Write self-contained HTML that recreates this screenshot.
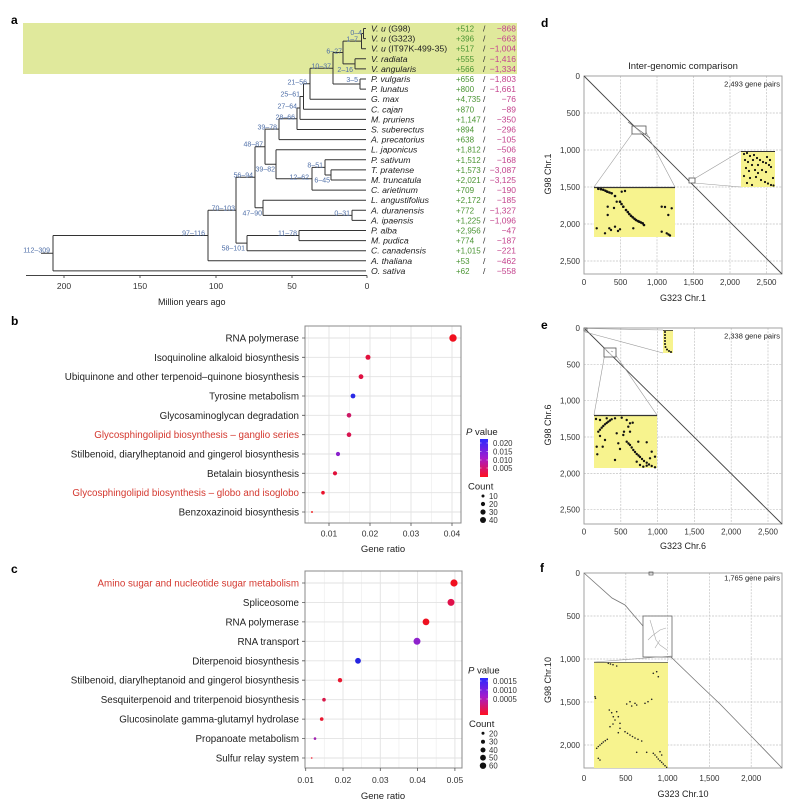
<!DOCTYPE html>
<html><head><meta charset="utf-8"><style>
html,body{margin:0;padding:0;background:#fff;}
svg{display:block;}
text{font-family:"Liberation Sans",Arial,sans-serif;}
</style></head><body>
<svg width="800" height="804" viewBox="0 0 800 804" xmlns="http://www.w3.org/2000/svg">
<defs>
<linearGradient id="pv" x1="0" y1="0" x2="0" y2="1">
<stop offset="0" stop-color="#2a2aff"/><stop offset="0.5" stop-color="#a41ccc"/><stop offset="1" stop-color="#ff1020"/>
</linearGradient>
</defs>
<rect width="800" height="804" fill="#fff"/>

<!-- ============ Panel a ============ -->
<text x="11" y="24" font-size="12" font-weight="bold">a</text>
<rect x="23" y="23" width="494" height="51" fill="#e0e99c"/>
<path fill="none" stroke="#333" stroke-width="1" d="
M41 253.2H53
M53 235.5V270.9 M53 235.5H208 M53 270.9H366
M208 210.2V260.8 M208 210.2H236 M208 260.8H366
M236 177.25V243.1 M236 177.25H255 M236 243.1H247
M247 235.55V250.7 M247 235.55H299 M247 250.7H366
M299 230.5V240.6 M299 230.5H366 M299 240.6H366
M255 146.7V207.8 M255 146.7H265 M255 207.8H263
M263 200.2V215.35 M263 200.2H366 M263 215.35H352
M352 210.3V220.4 M352 210.3H366 M352 220.4H366
M265 129.15V164.2 M265 129.15H279 M265 164.2H276
M276 149.7V178.75 M276 149.7H366 M276 178.75H312
M312 167.4V190.1 M312 167.4H325 M312 190.1H366
M325 159.8V174.95 M325 159.8H366 M325 174.95H331
M331 169.9V180 M331 169.9H366 M331 180H366
M279 118.7V139.6 M279 118.7H297 M279 139.6H366
M297 107.95V129.5 M297 107.95H300 M297 129.5H366
M300 96.5V119.4 M300 96.5H303.5 M300 119.4H366
M303.5 83.75V109.3 M303.5 83.75H310 M303.5 109.3H366
M310 68.3V99.2 M310 68.3H333 M310 99.2H366
M333 52.5V84.05 M333 52.5H343 M333 84.05H360
M360 79V89.1 M360 79H366 M360 89.1H366
M343 41.1V63.85 M343 41.1H361.5 M343 63.85H355
M355 58.8V68.9 M355 58.8H366 M355 68.9H366
M361.5 33.55V48.7 M361.5 33.55H363.5 M361.5 48.7H366
M363.5 28.5V38.6 M363.5 28.5H366 M363.5 38.6H366
"/>
<g font-size="7" fill="#4f6fa8" text-anchor="end">
<text x="362" y="35">0–4</text>
<text x="358" y="41.5">1–7</text>
<text x="342" y="53.5">6–27</text>
<text x="353" y="72">2–16</text>
<text x="331" y="68.5">10–37</text>
<text x="358" y="82">3–5</text>
<text x="307" y="84.5">21–56</text>
<text x="300" y="96.5">25–61</text>
<text x="297" y="108.5">27–64</text>
<text x="295" y="119.5">28–66</text>
<text x="277" y="129.5">39–78</text>
<text x="263" y="146.5">48–87</text>
<text x="275" y="171.5">39–82</text>
<text x="309" y="179.5">12–62</text>
<text x="323" y="167.5">8–51</text>
<text x="330" y="182.5">6–45</text>
<text x="253" y="177.5">56–94</text>
<text x="262" y="215.5">47–90</text>
<text x="350" y="215.5">0–31</text>
<text x="235" y="210.5">70–103</text>
<text x="245" y="250.5">58–101</text>
<text x="297" y="235.5">11–78</text>
<text x="205" y="235.5">97–116</text>
<text x="50" y="252.5">112–309</text>
</g>
<g font-size="8.7" fill="#222">
<text x="371" y="31.5"><tspan font-style="italic">V. u</tspan> (G98)</text>
<text x="371" y="41.6"><tspan font-style="italic">V. u</tspan> (G323)</text>
<text x="371" y="51.7"><tspan font-style="italic">V. u</tspan> (IT97K-499-35)</text>
<g font-style="italic">
<text x="371" y="61.8">V. radiata</text>
<text x="371" y="71.9">V. angularis</text>
<text x="371" y="82">P. vulgaris</text>
<text x="371" y="92.1">P. lunatus</text>
<text x="371" y="102.2">G. max</text>
<text x="371" y="112.3">C. cajan</text>
<text x="371" y="122.4">M. pruriens</text>
<text x="371" y="132.5">S. suberectus</text>
<text x="371" y="142.6">A. precatorius</text>
<text x="371" y="152.7">L. japonicus</text>
<text x="371" y="162.8">P. sativum</text>
<text x="371" y="172.9">T. pratense</text>
<text x="371" y="183">M. truncatula</text>
<text x="371" y="193.1">C. arietinum</text>
<text x="371" y="203.2">L. angustifolius</text>
<text x="371" y="213.3">A. duranensis</text>
<text x="371" y="223.4">A. ipaensis</text>
<text x="371" y="233.5">P. alba</text>
<text x="371" y="243.6">M. pudica</text>
<text x="371" y="253.7">C. canadensis</text>
<text x="371" y="263.8">A. thaliana</text>
<text x="371" y="273.9">O. sativa</text>
</g>
</g>
<g font-size="8" fill="#4a9433">
<text x="456" y="31.5">+512</text><text x="456" y="41.6">+396</text><text x="456" y="51.7">+517</text><text x="456" y="61.8">+555</text><text x="456" y="71.9">+566</text>
<text x="456" y="82">+656</text><text x="456" y="92.1">+800</text><text x="456" y="102.2">+4,735</text><text x="456" y="112.3">+870</text><text x="456" y="122.4">+1,147</text>
<text x="456" y="132.5">+894</text><text x="456" y="142.6">+638</text><text x="456" y="152.7">+1,812</text><text x="456" y="162.8">+1,512</text><text x="456" y="172.9">+1,573</text>
<text x="456" y="183">+2,021</text><text x="456" y="193.1">+709</text><text x="456" y="203.2">+2,172</text><text x="456" y="213.3">+772</text><text x="456" y="223.4">+1,225</text>
<text x="456" y="233.5">+2,956</text><text x="456" y="243.6">+774</text><text x="456" y="253.7">+1,015</text><text x="456" y="263.8">+53</text><text x="456" y="273.9">+62</text>
</g>
<g font-size="8.5" fill="#333">
<text x="483" y="31.5">/</text><text x="483" y="41.6">/</text><text x="483" y="51.7">/</text><text x="483" y="61.8">/</text><text x="483" y="71.9">/</text>
<text x="483" y="82">/</text><text x="483" y="92.1">/</text><text x="483" y="102.2">/</text><text x="483" y="112.3">/</text><text x="483" y="122.4">/</text>
<text x="483" y="132.5">/</text><text x="483" y="142.6">/</text><text x="483" y="152.7">/</text><text x="483" y="162.8">/</text><text x="483" y="172.9">/</text>
<text x="483" y="183">/</text><text x="483" y="193.1">/</text><text x="483" y="203.2">/</text><text x="483" y="213.3">/</text><text x="483" y="223.4">/</text>
<text x="483" y="233.5">/</text><text x="483" y="243.6">/</text><text x="483" y="253.7">/</text><text x="483" y="263.8">/</text><text x="483" y="273.9">/</text>
</g>
<g font-size="8.5" fill="#c4448e" text-anchor="end">
<text x="516" y="31.5">−868</text><text x="516" y="41.6">−663</text><text x="516" y="51.7">−1,004</text><text x="516" y="61.8">−1,416</text><text x="516" y="71.9">−1,334</text>
<text x="516" y="82">−1,803</text><text x="516" y="92.1">−1,661</text><text x="516" y="102.2">−76</text><text x="516" y="112.3">−89</text><text x="516" y="122.4">−350</text>
<text x="516" y="132.5">−296</text><text x="516" y="142.6">−105</text><text x="516" y="152.7">−506</text><text x="516" y="162.8">−168</text><text x="516" y="172.9">−3,087</text>
<text x="516" y="183">−3,125</text><text x="516" y="193.1">−190</text><text x="516" y="203.2">−185</text><text x="516" y="213.3">−1,327</text><text x="516" y="223.4">−1,096</text>
<text x="516" y="233.5">−47</text><text x="516" y="243.6">−187</text><text x="516" y="253.7">−221</text><text x="516" y="263.8">−462</text><text x="516" y="273.9">−558</text>
</g>
<path d="M26 275.5H367 M64 275.5v2.5 M140 275.5v2.5 M216 275.5v2.5 M292 275.5v2.5 M367 275.5v2.5" stroke="#444" stroke-width="0.9" fill="none"/>
<g font-size="8.5" fill="#333" text-anchor="middle">
<text x="64" y="289">200</text><text x="140" y="289">150</text><text x="216" y="289">100</text><text x="292" y="289">50</text><text x="367" y="289">0</text>
</g>
<text x="158" y="305" font-size="9" fill="#222">Million years ago</text>

<!-- ============ Panel b ============ -->
<text x="11" y="325" font-size="12" font-weight="bold">b</text>
<rect x="305" y="326" width="156" height="197" fill="#fff"/>
<g stroke="#f0f0f0" stroke-width="0.8">
<path d="M308.5 326V523 M349.5 326V523 M390.5 326V523 M431.5 326V523"/>
</g>
<g stroke="#e2e2e2" stroke-width="0.9">
<path d="M329 326V523 M370 326V523 M411 326V523 M452 326V523"/>
<path d="M305 338H461 M305 357.3H461 M305 376.7H461 M305 396H461 M305 415.3H461 M305 434.7H461 M305 454H461 M305 473.3H461 M305 492.7H461 M305 512H461"/>
</g>
<rect x="305" y="326" width="156" height="197" fill="none" stroke="#888" stroke-width="1"/>
<path d="M302 338h3 M302 357.3h3 M302 376.7h3 M302 396h3 M302 415.3h3 M302 434.7h3 M302 454h3 M302 473.3h3 M302 492.7h3 M302 512h3 M329 523v3 M370 523v3 M411 523v3 M452 523v3" stroke="#555" stroke-width="0.8"/>
<g font-size="9.8" fill="#222" text-anchor="end">
<text x="299" y="341.5">RNA polymerase</text>
<text x="299" y="360.8">Isoquinoline alkaloid biosynthesis</text>
<text x="299" y="380.2">Ubiquinone and other terpenoid–quinone biosynthesis</text>
<text x="299" y="399.5">Tyrosine metabolism</text>
<text x="299" y="418.8">Glycosaminoglycan degradation</text>
<text x="299" y="438.2" fill="#d4382f">Glycosphingolipid biosynthesis – ganglio series</text>
<text x="299" y="457.5">Stilbenoid, diarylheptanoid and gingerol biosynthesis</text>
<text x="299" y="476.8">Betalain biosynthesis</text>
<text x="299" y="496.2" fill="#d4382f">Glycosphingolipid biosynthesis – globo and isoglobo</text>
<text x="299" y="515.5">Benzoxazinoid biosynthesis</text>
</g>
<circle cx="453" cy="338" r="3.7" fill="#f0101e"/>
<circle cx="368" cy="357.3" r="2.5" fill="#e2103c"/>
<circle cx="361" cy="376.7" r="2.4" fill="#e01042"/>
<circle cx="353" cy="396" r="2.4" fill="#2a2ae6"/>
<circle cx="349" cy="415.3" r="2.3" fill="#cc1866"/>
<circle cx="349" cy="434.7" r="2.3" fill="#d81450"/>
<circle cx="338" cy="454" r="2.1" fill="#8a22cc"/>
<circle cx="335" cy="473.3" r="2.1" fill="#e0103a"/>
<circle cx="323" cy="492.7" r="1.8" fill="#ea122c"/>
<circle cx="312" cy="512" r="1" fill="#f03030"/>
<g font-size="8.5" fill="#333" text-anchor="middle">
<text x="329" y="536.5">0.01</text><text x="370" y="536.5">0.02</text><text x="411" y="536.5">0.03</text><text x="452" y="536.5">0.04</text>
</g>
<text x="383" y="552" font-size="9.5" fill="#222" text-anchor="middle">Gene ratio</text>
<text x="466" y="435" font-size="9.5" fill="#222"><tspan font-style="italic">P</tspan> value</text>
<rect x="480" y="439" width="8" height="38" fill="url(#pv)"/>
<path d="M480 443h1.5 M486.5 443h1.5 M480 451.5h1.5 M486.5 451.5h1.5 M480 460h1.5 M486.5 460h1.5 M480 468h1.5 M486.5 468h1.5" stroke="#fff" stroke-width="0.6"/>
<g font-size="7.8" fill="#333">
<text x="493" y="446">0.020</text><text x="493" y="454.5">0.015</text><text x="493" y="463">0.010</text><text x="493" y="471">0.005</text>
</g>
<text x="468" y="489.5" font-size="9.5" fill="#222">Count</text>
<circle cx="483" cy="496" r="1.5" fill="#111"/><circle cx="483" cy="504" r="2.1" fill="#111"/><circle cx="483" cy="512" r="2.6" fill="#111"/><circle cx="483" cy="520" r="3" fill="#111"/>
<g font-size="7.8" fill="#333">
<text x="489" y="499">10</text><text x="489" y="507">20</text><text x="489" y="515">30</text><text x="489" y="523">40</text>
</g>

<!-- ============ Panel c ============ -->
<text x="11" y="573" font-size="12" font-weight="bold">c</text>
<rect x="305" y="571" width="157" height="197" fill="#fff"/>
<g stroke="#f0f0f0" stroke-width="0.8">
<path d="M324.3 571V768 M361.6 571V768 M398.9 571V768 M436.2 571V768"/>
</g>
<g stroke="#e2e2e2" stroke-width="0.9">
<path d="M343 571V768 M380.3 571V768 M417.6 571V768 M454.9 571V768"/>
<path d="M305 583H462 M305 602.4H462 M305 621.9H462 M305 641.3H462 M305 660.8H462 M305 680.2H462 M305 699.7H462 M305 719.1H462 M305 738.6H462 M305 758H462"/>
</g>
<rect x="305" y="571" width="157" height="197" fill="none" stroke="#888" stroke-width="1"/>
<path d="M302 583h3 M302 602.4h3 M302 621.9h3 M302 641.3h3 M302 660.8h3 M302 680.2h3 M302 699.7h3 M302 719.1h3 M302 738.6h3 M302 758h3 M305.7 768v3 M343 768v3 M380.3 768v3 M417.6 768v3 M454.9 768v3" stroke="#555" stroke-width="0.8"/>
<g font-size="9.8" fill="#222" text-anchor="end">
<text x="299" y="586.5" fill="#d4382f">Amino sugar and nucleotide sugar metabolism</text>
<text x="299" y="605.9">Spliceosome</text>
<text x="299" y="625.4">RNA polymerase</text>
<text x="299" y="644.8">RNA transport</text>
<text x="299" y="664.3">Diterpenoid biosynthesis</text>
<text x="299" y="683.7">Stilbenoid, diarylheptanoid and gingerol biosynthesis</text>
<text x="299" y="703.2">Sesquiterpenoid and triterpenoid biosynthesis</text>
<text x="299" y="722.6">Glucosinolate gamma-glutamyl hydrolase</text>
<text x="299" y="742.1">Propanoate metabolism</text>
<text x="299" y="761.5">Sulfur relay system</text>
</g>
<circle cx="454" cy="583" r="3.6" fill="#f0101e"/>
<circle cx="451" cy="602.4" r="3.5" fill="#e0104a"/>
<circle cx="426" cy="621.9" r="3.4" fill="#ee1020"/>
<circle cx="417" cy="641.3" r="3.5" fill="#8e22cc"/>
<circle cx="358" cy="660.8" r="2.9" fill="#2424e0"/>
<circle cx="340" cy="680.2" r="2.2" fill="#e81830"/>
<circle cx="324" cy="699.7" r="1.8" fill="#d8184a"/>
<circle cx="321.7" cy="719.1" r="1.8" fill="#e81830"/>
<circle cx="315" cy="738.6" r="1.3" fill="#a020b0"/>
<circle cx="311.7" cy="758" r="0.9" fill="#f04050"/>
<g font-size="8.5" fill="#333" text-anchor="middle">
<text x="305.7" y="783">0.01</text><text x="343" y="783">0.02</text><text x="380.3" y="783">0.03</text><text x="417.6" y="783">0.04</text><text x="454.9" y="783">0.05</text>
</g>
<text x="383" y="799" font-size="9.5" fill="#222" text-anchor="middle">Gene ratio</text>
<text x="468" y="673.5" font-size="9.5" fill="#222"><tspan font-style="italic">P</tspan> value</text>
<rect x="480" y="678" width="8" height="37" fill="url(#pv)"/>
<path d="M480 681h1.5 M486.5 681h1.5 M480 690h1.5 M486.5 690h1.5 M480 699h1.5 M486.5 699h1.5" stroke="#fff" stroke-width="0.6"/>
<g font-size="7.8" fill="#333">
<text x="493" y="684">0.0015</text><text x="493" y="693">0.0010</text><text x="493" y="702">0.0005</text>
</g>
<text x="469" y="727" font-size="9.5" fill="#222">Count</text>
<circle cx="483" cy="733.3" r="1.5" fill="#111"/><circle cx="483" cy="741.7" r="2" fill="#111"/><circle cx="483" cy="750" r="2.5" fill="#111"/><circle cx="483" cy="757.7" r="2.9" fill="#111"/><circle cx="483" cy="765.7" r="3.2" fill="#111"/>
<g font-size="7.8" fill="#333">
<text x="489" y="736.3">20</text><text x="489" y="744.7">30</text><text x="489" y="753">40</text><text x="489" y="760.7">50</text><text x="489" y="768.7">60</text>
</g>

<!-- ============ Panel d ============ -->
<text x="541" y="27" font-size="12" font-weight="bold">d</text>
<text x="683" y="69" font-size="9.5" fill="#222" text-anchor="middle">Inter-genomic comparison</text>
<g stroke="#c4c4c4" stroke-width="0.7" stroke-dasharray="2,1.2">
<path d="M620.5 76V274 M657 76V274 M693.5 76V274 M730 76V274 M766.5 76V274"/>
<path d="M584 113H782 M584 150H782 M584 187H782 M584 224H782 M584 261H782"/>
</g>
<rect x="584" y="76" width="198" height="198" fill="none" stroke="#999" stroke-width="0.9"/>
<path d="M584 76L782 274" stroke="#444" stroke-width="0.9"/>
<g font-size="8" fill="#333" text-anchor="end">
<text x="580" y="79">0</text><text x="580" y="116">500</text><text x="580" y="153">1,000</text><text x="580" y="190">1,500</text><text x="580" y="227">2,000</text><text x="580" y="264">2,500</text>
</g>
<g font-size="8" fill="#333" text-anchor="middle">
<text x="584" y="285">0</text><text x="620.5" y="285">500</text><text x="657" y="285">1,000</text><text x="693.5" y="285">1,500</text><text x="730" y="285">2,000</text><text x="766.5" y="285">2,500</text>
</g>
<text x="683" y="301" font-size="9" fill="#222" text-anchor="middle">G323 Chr.1</text>
<text transform="translate(551,174) rotate(-90)" font-size="9" fill="#222" text-anchor="middle">G98 Chr.1</text>
<text x="780" y="86.5" font-size="7.5" fill="#222" text-anchor="end">2,493 gene pairs</text>
<g stroke="#999" stroke-width="0.6">
<path d="M632 134L594 187 M646 132L675 187 M694 179L741 151 M694 183L741 187"/>
</g>
<rect x="632" y="126" width="14" height="8" fill="#fff" fill-opacity="0.6" stroke="#555" stroke-width="0.8"/>
<path d="M628 122L650 138" stroke="#666" stroke-width="0.7"/>
<rect x="689" y="178" width="6" height="5" fill="#fff" stroke="#555" stroke-width="0.8"/>
<rect x="594" y="187" width="81" height="50" fill="#f7f38e"/>
<path d="M594 187.5H675" stroke="#333" stroke-width="1.3"/>
<g fill="#111">
<circle cx="598.3" cy="188.8" r="1.3"/><circle cx="601" cy="189.2" r="1.3"/><circle cx="603.3" cy="189.8" r="1.3"/><circle cx="605.5" cy="190.8" r="1.3"/><circle cx="607.3" cy="191.7" r="1.3"/><circle cx="609.5" cy="192.5" r="1.3"/><circle cx="611.7" cy="193.3" r="1.3"/><circle cx="615" cy="196" r="1.3"/>
<circle cx="620" cy="201.7" r="1.3"/><circle cx="621.5" cy="204" r="1.3"/><circle cx="623.3" cy="206.7" r="1.3"/><circle cx="626" cy="210" r="1.3"/><circle cx="627.8" cy="212" r="1.3"/><circle cx="629.3" cy="214" r="1.3"/><circle cx="631" cy="215.8" r="1.3"/><circle cx="632.7" cy="217.3" r="1.3"/><circle cx="634.5" cy="218.8" r="1.3"/><circle cx="636" cy="220" r="1.3"/><circle cx="637.8" cy="221" r="1.3"/><circle cx="639.3" cy="221.7" r="1.3"/><circle cx="641" cy="222.5" r="1.3"/><circle cx="642.7" cy="223.3" r="1.3"/><circle cx="644" cy="225" r="1.3"/>
<circle cx="607.7" cy="206.7" r="1.2"/><circle cx="607.7" cy="215" r="1.2"/><circle cx="616.7" cy="201.7" r="1.2"/><circle cx="621.7" cy="191.7" r="1.2"/><circle cx="625" cy="191" r="1.2"/><circle cx="596.7" cy="228.3" r="1.2"/><circle cx="609.3" cy="228.3" r="1.2"/><circle cx="611" cy="230" r="1.2"/><circle cx="615" cy="226.7" r="1.2"/><circle cx="620" cy="229.3" r="1.2"/><circle cx="618" cy="231" r="1.2"/><circle cx="605" cy="233.3" r="1.2"/><circle cx="633.3" cy="228.3" r="1.2"/><circle cx="661.7" cy="206.7" r="1.2"/><circle cx="665" cy="207" r="1.2"/><circle cx="671.7" cy="208.3" r="1.2"/><circle cx="668.3" cy="215" r="1.2"/><circle cx="661.7" cy="231.7" r="1.2"/><circle cx="666.7" cy="233.3" r="1.2"/><circle cx="668.5" cy="234.5" r="1.2"/><circle cx="670" cy="235.5" r="1.2"/><circle cx="614" cy="208" r="1.2"/>
</g>
<rect x="741" y="151" width="34" height="36" fill="#f7f38e"/>
<path d="M741 151.5H775" stroke="#333" stroke-width="1"/>
<g fill="#111">
<circle cx="744" cy="154" r="1.1"/><circle cx="747" cy="153" r="1.1"/><circle cx="750" cy="156" r="1.1"/><circle cx="754" cy="155" r="1.1"/><circle cx="757" cy="158" r="1.1"/><circle cx="760" cy="160" r="1.1"/><circle cx="763" cy="162" r="1.1"/><circle cx="766" cy="163" r="1.1"/><circle cx="769" cy="165" r="1.1"/><circle cx="771" cy="167" r="1.1"/>
<circle cx="745" cy="160" r="1.1"/><circle cx="748" cy="162" r="1.1"/><circle cx="752" cy="165" r="1.1"/><circle cx="746" cy="168" r="1.1"/><circle cx="749" cy="171" r="1.1"/><circle cx="755" cy="170" r="1.1"/><circle cx="758" cy="173" r="1.1"/><circle cx="762" cy="170" r="1.1"/><circle cx="766" cy="172" r="1.1"/><circle cx="744" cy="176" r="1.1"/><circle cx="750" cy="178" r="1.1"/><circle cx="756" cy="177" r="1.1"/><circle cx="761" cy="180" r="1.1"/><circle cx="765" cy="182" r="1.1"/><circle cx="768" cy="183.5" r="1.1"/><circle cx="771" cy="185" r="1.1"/><circle cx="773.5" cy="185.5" r="1.1"/><circle cx="747" cy="183" r="1.1"/><circle cx="752" cy="185" r="1.1"/><circle cx="758" cy="165" r="1.1"/><circle cx="767" cy="157" r="1.1"/><circle cx="770" cy="160" r="1.1"/><circle cx="773" cy="178" r="1.1"/><circle cx="753" cy="160" r="1.1"/>
</g>

<!-- ============ Panel e ============ -->
<text x="541" y="329" font-size="12" font-weight="bold">e</text>
<g stroke="#c4c4c4" stroke-width="0.7" stroke-dasharray="2,1.2">
<path d="M620.8 328V524 M657.6 328V524 M694.4 328V524 M731.2 328V524 M768 328V524"/>
<path d="M584 364.3H782 M584 400.7H782 M584 437H782 M584 473.4H782 M584 509.7H782"/>
</g>
<rect x="584" y="328" width="198" height="196" fill="none" stroke="#999" stroke-width="0.9"/>
<path d="M585 329L782 524" stroke="#444" stroke-width="0.9"/>
<g font-size="8" fill="#333" text-anchor="end">
<text x="580" y="331">0</text><text x="580" y="367.3">500</text><text x="580" y="403.7">1,000</text><text x="580" y="440">1,500</text><text x="580" y="476.4">2,000</text><text x="580" y="512.7">2,500</text>
</g>
<g font-size="8" fill="#333" text-anchor="middle">
<text x="584" y="534.5">0</text><text x="620.8" y="534.5">500</text><text x="657.6" y="534.5">1,000</text><text x="694.4" y="534.5">1,500</text><text x="731.2" y="534.5">2,000</text><text x="768" y="534.5">2,500</text>
</g>
<text x="683" y="549" font-size="9" fill="#222" text-anchor="middle">G323 Chr.6</text>
<text transform="translate(551,425) rotate(-90)" font-size="9" fill="#222" text-anchor="middle">G98 Chr.6</text>
<text x="780" y="338.5" font-size="7.5" fill="#222" text-anchor="end">2,338 gene pairs</text>
<g stroke="#999" stroke-width="0.6">
<path d="M585 328.5L663 330 M585 332L663 353 M604.3 356.7L594 415 M615.7 355L657 415"/>
</g>
<rect x="584" y="328" width="3" height="3" fill="none" stroke="#555" stroke-width="0.7"/>
<rect x="604" y="348" width="12" height="9" fill="#fff" fill-opacity="0.6" stroke="#555" stroke-width="0.8"/>
<path d="M606 350l3 3 M611 351l2 1" stroke="#888" stroke-width="0.6"/>
<rect x="663" y="330" width="10" height="23" fill="#f7f38e"/>
<path d="M663 330.5H673" stroke="#333" stroke-width="0.8"/>
<g fill="#111">
<circle cx="665" cy="332" r="1"/><circle cx="665" cy="335" r="1"/><circle cx="665" cy="338" r="1"/><circle cx="665" cy="341" r="1"/><circle cx="665" cy="344" r="1"/><circle cx="665.5" cy="347" r="1"/><circle cx="667" cy="349.5" r="1"/><circle cx="669" cy="351" r="1"/><circle cx="671" cy="352" r="1"/>
</g>
<rect x="594" y="415" width="63" height="53" fill="#f7f38e"/>
<path d="M594 415.5H657" stroke="#333" stroke-width="1.2"/>
<g fill="#111">
<circle cx="598.3" cy="431.7" r="1.2"/><circle cx="600" cy="429.7" r="1.2"/><circle cx="601.7" cy="427.7" r="1.2"/><circle cx="603.3" cy="426" r="1.2"/><circle cx="605" cy="424.3" r="1.2"/><circle cx="606.7" cy="423" r="1.2"/><circle cx="608.3" cy="421.7" r="1.2"/><circle cx="610" cy="420.5" r="1.2"/><circle cx="611.7" cy="419.3" r="1.2"/>
<circle cx="596" cy="419" r="1.2"/><circle cx="600" cy="420" r="1.2"/><circle cx="606.7" cy="418.3" r="1.2"/><circle cx="615" cy="418.3" r="1.2"/><circle cx="621.7" cy="417.7" r="1.2"/><circle cx="626.7" cy="420" r="1.2"/>
<circle cx="600" cy="436" r="1.2"/><circle cx="605" cy="440" r="1.2"/><circle cx="602.7" cy="446.7" r="1.2"/><circle cx="616.7" cy="433.3" r="1.2"/><circle cx="618.3" cy="443.3" r="1.2"/><circle cx="620" cy="449" r="1.2"/><circle cx="623.3" cy="435" r="1.2"/><circle cx="628.3" cy="426.7" r="1.2"/><circle cx="630" cy="423.3" r="1.2"/><circle cx="632.7" cy="422.7" r="1.2"/><circle cx="630" cy="431.7" r="1.2"/><circle cx="624" cy="431.7" r="1.2"/>
<circle cx="626.7" cy="441.7" r="1.2"/><circle cx="628.5" cy="443.5" r="1.2"/><circle cx="630" cy="445" r="1.2"/><circle cx="631.7" cy="447.5" r="1.2"/><circle cx="633.3" cy="450" r="1.2"/><circle cx="635" cy="452" r="1.2"/><circle cx="636.7" cy="454" r="1.2"/><circle cx="638.5" cy="455.5" r="1.2"/><circle cx="640" cy="457" r="1.2"/><circle cx="642" cy="459" r="1.2"/><circle cx="644" cy="461" r="1.2"/><circle cx="646.7" cy="462.7" r="1.2"/><circle cx="649" cy="464.5" r="1.2"/><circle cx="651.7" cy="466" r="1.2"/><circle cx="655" cy="467.3" r="1.2"/>
<circle cx="636.7" cy="461.7" r="1.2"/><circle cx="640" cy="465" r="1.2"/><circle cx="643.3" cy="466.7" r="1.2"/><circle cx="646.7" cy="465.7" r="1.2"/><circle cx="638.3" cy="441.7" r="1.2"/><circle cx="646.7" cy="442.3" r="1.2"/><circle cx="651.7" cy="451.7" r="1.2"/><circle cx="655" cy="456.7" r="1.2"/><circle cx="650" cy="458.3" r="1.2"/><circle cx="596.7" cy="446.7" r="1.2"/><circle cx="597.3" cy="454.3" r="1.2"/><circle cx="615" cy="460" r="1.2"/>
</g>

<!-- ============ Panel f ============ -->
<text x="540" y="572" font-size="12" font-weight="bold">f</text>
<g stroke="#c4c4c4" stroke-width="0.7" stroke-dasharray="2,1.2">
<path d="M625.8 573V768 M667.6 573V768 M709.4 573V768 M751.2 573V768"/>
<path d="M584 616H782 M584 659H782 M584 702H782 M584 745H782"/>
</g>
<rect x="584" y="573" width="198" height="195" fill="none" stroke="#999" stroke-width="0.9"/>
<path d="M584 573L612 598L625 605L643 626 M671 657L700 685L720 704L755 740L782 768" stroke="#777" stroke-width="0.8" fill="none"/>
<path d="M650 620L653 630L656 640L660 645L667 650 M648 640L652 636L660 630L666 628 M655 648L660 640" stroke="#aaa" stroke-width="0.6" fill="none"/>
<g font-size="8" fill="#333" text-anchor="end">
<text x="580" y="576">0</text><text x="580" y="619">500</text><text x="580" y="662">1,000</text><text x="580" y="705">1,500</text><text x="580" y="748">2,000</text>
</g>
<g font-size="8" fill="#333" text-anchor="middle">
<text x="584" y="781">0</text><text x="625.8" y="781">500</text><text x="667.6" y="781">1,000</text><text x="709.4" y="781">1,500</text><text x="751.2" y="781">2,000</text>
</g>
<text x="683" y="797" font-size="9" fill="#222" text-anchor="middle">G323 Chr.10</text>
<text transform="translate(551,680) rotate(-90)" font-size="9" fill="#222" text-anchor="middle">G98 Chr.10</text>
<text x="780" y="580.5" font-size="7.5" fill="#222" text-anchor="end">1,765 gene pairs</text>
<rect x="649" y="572" width="4" height="3" fill="none" stroke="#555" stroke-width="0.7"/>
<rect x="643" y="616" width="29" height="41" fill="none" stroke="#666" stroke-width="0.8"/>
<path d="M594 662L672 656" stroke="#999" stroke-width="0.6"/>
<rect x="594" y="662" width="74" height="106" fill="#f7f38e"/>
<path d="M594 662.5H668" stroke="#555" stroke-width="0.8"/>
<g fill="#222">
<circle cx="608.3" cy="663.3" r="0.8"/><circle cx="610.5" cy="664" r="0.8"/><circle cx="613" cy="664.7" r="0.8"/><circle cx="616.7" cy="666" r="0.8"/>
<circle cx="595" cy="696.7" r="0.8"/><circle cx="595.5" cy="698.3" r="0.8"/>
<circle cx="653.3" cy="673.3" r="0.8"/><circle cx="656.7" cy="671.7" r="0.8"/><circle cx="658.3" cy="676.7" r="0.8"/>
<circle cx="645" cy="703.3" r="0.8"/><circle cx="648" cy="701.7" r="0.8"/><circle cx="651.7" cy="699.3" r="0.8"/>
<circle cx="626.7" cy="704" r="0.8"/><circle cx="631.7" cy="706" r="0.8"/><circle cx="636.7" cy="705" r="0.8"/><circle cx="630" cy="701.7" r="0.8"/><circle cx="635" cy="703.3" r="0.8"/>
<circle cx="609.3" cy="710" r="0.8"/><circle cx="611.7" cy="712.7" r="0.8"/><circle cx="613.3" cy="716.7" r="0.8"/><circle cx="616.7" cy="711.7" r="0.8"/><circle cx="615" cy="720" r="0.8"/><circle cx="610" cy="726.7" r="0.8"/><circle cx="620" cy="728.3" r="0.8"/><circle cx="618.3" cy="716.7" r="0.8"/><circle cx="613" cy="724" r="0.8"/>
<circle cx="596.7" cy="748.3" r="0.8"/><circle cx="598.3" cy="746.5" r="0.8"/><circle cx="600" cy="745" r="0.8"/><circle cx="601.7" cy="743.5" r="0.8"/><circle cx="603.3" cy="742" r="0.8"/><circle cx="605.3" cy="740.7" r="0.8"/><circle cx="607.3" cy="739.3" r="0.8"/>
<circle cx="598.3" cy="758.3" r="0.8"/><circle cx="600" cy="760" r="0.8"/>
<circle cx="625" cy="731.7" r="0.8"/><circle cx="627.5" cy="733.3" r="0.8"/><circle cx="630" cy="735" r="0.8"/><circle cx="632.5" cy="736.5" r="0.8"/><circle cx="635" cy="738" r="0.8"/><circle cx="638" cy="739.3" r="0.8"/><circle cx="641.7" cy="741" r="0.8"/>
<circle cx="618.3" cy="732.7" r="0.8"/><circle cx="620" cy="723.3" r="0.8"/>
<circle cx="636.7" cy="752.3" r="0.8"/><circle cx="646.7" cy="752.3" r="0.8"/><circle cx="660" cy="751.7" r="0.8"/><circle cx="661.7" cy="755" r="0.8"/>
<circle cx="653.3" cy="753.3" r="0.8"/><circle cx="655" cy="755" r="0.8"/><circle cx="656.7" cy="757" r="0.8"/><circle cx="658.3" cy="759" r="0.8"/><circle cx="660" cy="760.7" r="0.8"/><circle cx="661.7" cy="762.3" r="0.8"/><circle cx="663.3" cy="764" r="0.8"/><circle cx="665" cy="765.7" r="0.8"/><circle cx="666.7" cy="767.3" r="0.8"/>
</g>
</svg>
</body></html>
